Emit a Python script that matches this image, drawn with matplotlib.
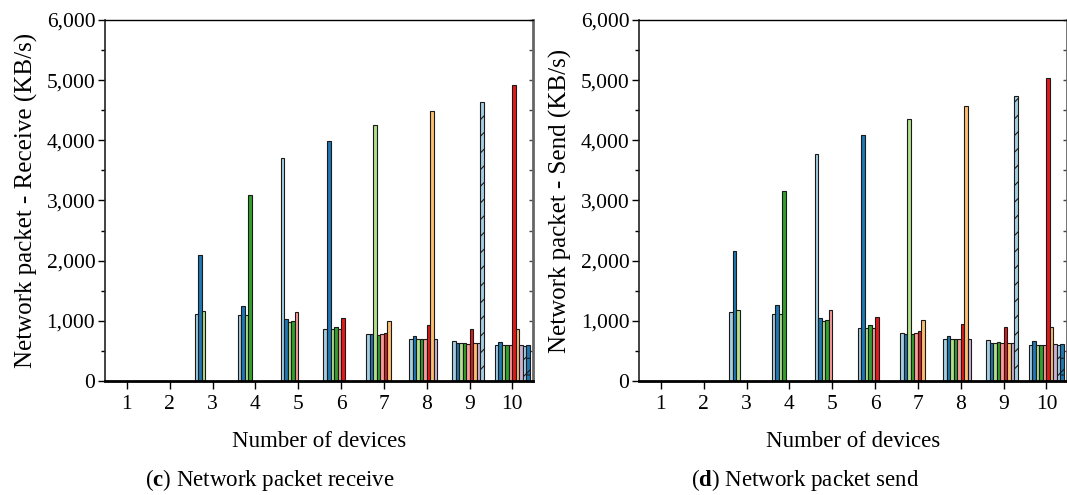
import numpy as np
import matplotlib
matplotlib.use("Agg")
import matplotlib.pyplot as plt
from matplotlib.ticker import FuncFormatter, MultipleLocator

plt.rcParams['font.family'] = ['Liberation Serif', 'DejaVu Serif']
plt.rcParams['mathtext.fontset'] = 'custom'
plt.rcParams['mathtext.rm'] = 'Liberation Serif'
plt.rcParams['mathtext.bf'] = 'Liberation Serif:bold'
plt.rcParams['hatch.linewidth'] = 0.8

# number of devices on the x axis
devices = [1, 2, 3, 4, 5, 6, 7, 8, 9, 10]

# receive (KB/s), one list per number of devices, one value per device
rx_3 = [1110, 2095, 1160]
rx_4 = [1095, 1245, 1095, 3085]
rx_5 = [3700, 1030, 975, 990, 1155]
rx_6 = [860, 3990, 860, 905, 870, 1055]
rx_7 = [775, 775, 4255, 765, 775, 805, 990]
rx_8 = [695, 740, 695, 695, 705, 925, 4480, 695]
rx_9 = [665, 625, 625, 625, 615, 870, 625, 625, 4630]
rx_10 = [600, 650, 600, 600, 600, 4925, 870, 600, 585, 600]

# send (KB/s)
tx_3 = [1140, 2155, 1188]
tx_4 = [1116, 1271, 1116, 3165]
tx_5 = [3780, 1039, 994, 1011, 1182]
tx_6 = [873, 4090, 873, 923, 873, 1072]
tx_7 = [790, 779, 4360, 779, 790, 823, 1006]
tx_8 = [701, 751, 701, 701, 701, 951, 4578, 691]
tx_9 = [685, 630, 630, 641, 630, 890, 630, 624, 4740]
tx_10 = [602, 657, 602, 602, 602, 5040, 890, 613, 602, 608]

receive = [[], [], rx_3, rx_4, rx_5, rx_6, rx_7, rx_8, rx_9, rx_10]
send = [[], [], tx_3, tx_4, tx_5, tx_6, tx_7, tx_8, tx_9, tx_10]

colors = ['#a6cee3', '#1f78b4', '#b2df8a', '#33a02c', '#fb9a99',
          '#e31a1c', '#fdbf6f', '#cab2d6', '#a6cee3', '#1f78b4']
hatches = [None] * 8 + ['//', '/-']
width = 0.082


def draw(ax, groups, ylabel, caption, cx):
    for i in range(10):
        xs, hs = [], []
        for n, vals in zip(devices, groups):
            if len(vals) > i:
                xs.append(n + (i - 4.5) * width)
                hs.append(vals[i])
        if xs:
            ax.bar(xs, hs, width=width, color=colors[i], edgecolor='#1a1a1a',
                   linewidth=0.8, hatch=hatches[i], zorder=2)
    ax.set_xlim(0.49, 10.48)
    ax.set_ylim(0, 6000)
    ax.set_xticks(devices)
    ax.yaxis.set_major_locator(MultipleLocator(1000))
    ax.yaxis.set_minor_locator(MultipleLocator(500))
    ax.yaxis.set_major_formatter(FuncFormatter(lambda v, p: f"{int(v):,}"))
    ax.tick_params(axis='y', which='major', direction='out', length=5, width=1,
                   labelsize=15.5, pad=2)
    ax.tick_params(axis='y', which='minor', direction='out', length=3, width=1)
    ax.tick_params(axis='x', direction='out', length=6, width=1, labelsize=15.5, pad=4)
    ax.spines['bottom'].set_linewidth(2)
    ax.spines['left'].set_linewidth(1.2)
    ax.spines['left'].set_color('#222222')
    ax.spines['top'].set_linewidth(1)
    ax.spines['right'].set_linewidth(2)
    ax.spines['right'].set_color('#666666')
    # inward ticks on the right spine
    sec = ax.secondary_yaxis('right')
    sec.yaxis.set_major_locator(MultipleLocator(500))
    sec.tick_params(direction='in', length=3, width=1, color='#444444', labelright=False)
    sec.spines['right'].set_visible(False)
    ax.set_ylabel(ylabel, fontsize=18, labelpad=6)
    ax.set_xlabel("Number of devices", fontsize=16.5, labelpad=12)
    ax.figure.text(cx, 0.03, caption, fontsize=16.5, ha='center', va='center')


fig = plt.figure(figsize=(10.67, 4.95), dpi=100)
ax1 = fig.add_axes([0.0984, 0.2303, 0.4011, 0.7293])
ax2 = fig.add_axes([0.5989, 0.2303, 0.4011, 0.7293])

draw(ax1, receive, "Network packet - Receive (KB/s)",
     r"($\mathbf{c}$) Network packet receive", 0.253)
draw(ax2, send, "Network packet - Send (KB/s)",
     r"($\mathbf{d}$) Network packet send", 0.755)

fig.savefig("out.png", dpi=100)
